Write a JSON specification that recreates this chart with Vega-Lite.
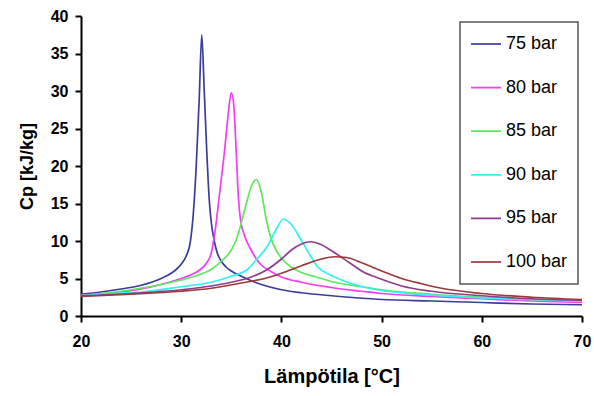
{
  "$schema": "https://vega.github.io/schema/vega-lite/v6.json",
  "width": 501,
  "height": 300,
  "autosize": {"type": "none"},
  "padding": {"left": 81, "top": 16, "right": 12, "bottom": 80},
  "background": "white",
  "datasets": {
    "cp": [
      {"p": "75 bar", "T": 20, "Cp": 2.9}, {"p": "75 bar", "T": 22, "Cp": 3.2}, {"p": "75 bar", "T": 24, "Cp": 3.6}, {"p": "75 bar", "T": 26, "Cp": 4.1}, {"p": "75 bar", "T": 28, "Cp": 5.0}, {"p": "75 bar", "T": 29, "Cp": 5.7}, {"p": "75 bar", "T": 29.5, "Cp": 6.2}, {"p": "75 bar", "T": 30, "Cp": 6.9}, {"p": "75 bar", "T": 30.5, "Cp": 8.0}, {"p": "75 bar", "T": 30.9, "Cp": 9.8}, {"p": "75 bar", "T": 31.2, "Cp": 13.5}, {"p": "75 bar", "T": 31.5, "Cp": 20}, {"p": "75 bar", "T": 31.8, "Cp": 29}, {"p": "75 bar", "T": 32.05, "Cp": 37.5}, {"p": "75 bar", "T": 32.3, "Cp": 30}, {"p": "75 bar", "T": 32.55, "Cp": 22}, {"p": "75 bar", "T": 32.8, "Cp": 15.5}, {"p": "75 bar", "T": 33, "Cp": 12.5}, {"p": "75 bar", "T": 33.3, "Cp": 10}, {"p": "75 bar", "T": 33.6, "Cp": 8.4}, {"p": "75 bar", "T": 34, "Cp": 7.3}, {"p": "75 bar", "T": 34.5, "Cp": 6.5}, {"p": "75 bar", "T": 35, "Cp": 6.0}, {"p": "75 bar", "T": 36, "Cp": 5.3}, {"p": "75 bar", "T": 37, "Cp": 4.7}, {"p": "75 bar", "T": 38, "Cp": 4.2}, {"p": "75 bar", "T": 40, "Cp": 3.5}, {"p": "75 bar", "T": 42, "Cp": 3.1}, {"p": "75 bar", "T": 45, "Cp": 2.7}, {"p": "75 bar", "T": 50, "Cp": 2.2}, {"p": "75 bar", "T": 55, "Cp": 2.0}, {"p": "75 bar", "T": 60, "Cp": 1.8}, {"p": "75 bar", "T": 65, "Cp": 1.6}, {"p": "75 bar", "T": 70, "Cp": 1.5},
      {"p": "80 bar", "T": 20, "Cp": 2.8}, {"p": "80 bar", "T": 24, "Cp": 3.2}, {"p": "80 bar", "T": 26, "Cp": 3.6}, {"p": "80 bar", "T": 28, "Cp": 4.2}, {"p": "80 bar", "T": 30, "Cp": 5.0}, {"p": "80 bar", "T": 31, "Cp": 5.5}, {"p": "80 bar", "T": 31.7, "Cp": 6.0}, {"p": "80 bar", "T": 32.5, "Cp": 7.0}, {"p": "80 bar", "T": 33, "Cp": 8.4}, {"p": "80 bar", "T": 33.4, "Cp": 11.5}, {"p": "80 bar", "T": 33.8, "Cp": 16}, {"p": "80 bar", "T": 34.3, "Cp": 21.7}, {"p": "80 bar", "T": 34.7, "Cp": 27}, {"p": "80 bar", "T": 35, "Cp": 29.8}, {"p": "80 bar", "T": 35.25, "Cp": 28}, {"p": "80 bar", "T": 35.5, "Cp": 21.7}, {"p": "80 bar", "T": 35.7, "Cp": 16}, {"p": "80 bar", "T": 35.9, "Cp": 13}, {"p": "80 bar", "T": 36.3, "Cp": 10.8}, {"p": "80 bar", "T": 36.9, "Cp": 9.0}, {"p": "80 bar", "T": 37.5, "Cp": 7.6}, {"p": "80 bar", "T": 38, "Cp": 6.8}, {"p": "80 bar", "T": 39, "Cp": 5.9}, {"p": "80 bar", "T": 40, "Cp": 5.2}, {"p": "80 bar", "T": 42, "Cp": 4.5}, {"p": "80 bar", "T": 45, "Cp": 3.8}, {"p": "80 bar", "T": 48, "Cp": 3.3}, {"p": "80 bar", "T": 50, "Cp": 3.0}, {"p": "80 bar", "T": 55, "Cp": 2.6}, {"p": "80 bar", "T": 60, "Cp": 2.3}, {"p": "80 bar", "T": 65, "Cp": 2.0}, {"p": "80 bar", "T": 70, "Cp": 1.8},
      {"p": "85 bar", "T": 20, "Cp": 2.7}, {"p": "85 bar", "T": 22, "Cp": 3.0}, {"p": "85 bar", "T": 25, "Cp": 3.5}, {"p": "85 bar", "T": 28, "Cp": 4.2}, {"p": "85 bar", "T": 30, "Cp": 4.8}, {"p": "85 bar", "T": 32, "Cp": 5.6}, {"p": "85 bar", "T": 33, "Cp": 6.2}, {"p": "85 bar", "T": 34, "Cp": 7.3}, {"p": "85 bar", "T": 35, "Cp": 8.8}, {"p": "85 bar", "T": 35.5, "Cp": 10.2}, {"p": "85 bar", "T": 36, "Cp": 12.4}, {"p": "85 bar", "T": 36.5, "Cp": 15}, {"p": "85 bar", "T": 37, "Cp": 17.3}, {"p": "85 bar", "T": 37.5, "Cp": 18.2}, {"p": "85 bar", "T": 38, "Cp": 16.5}, {"p": "85 bar", "T": 38.5, "Cp": 12.8}, {"p": "85 bar", "T": 39, "Cp": 10.2}, {"p": "85 bar", "T": 39.5, "Cp": 8.7}, {"p": "85 bar", "T": 40, "Cp": 7.7}, {"p": "85 bar", "T": 41, "Cp": 6.5}, {"p": "85 bar", "T": 42, "Cp": 5.8}, {"p": "85 bar", "T": 43.5, "Cp": 5.2}, {"p": "85 bar", "T": 45, "Cp": 4.6}, {"p": "85 bar", "T": 48, "Cp": 3.9}, {"p": "85 bar", "T": 50, "Cp": 3.5}, {"p": "85 bar", "T": 55, "Cp": 2.9}, {"p": "85 bar", "T": 60, "Cp": 2.5}, {"p": "85 bar", "T": 65, "Cp": 2.2}, {"p": "85 bar", "T": 70, "Cp": 2.0},
      {"p": "90 bar", "T": 20, "Cp": 2.7}, {"p": "90 bar", "T": 23, "Cp": 3.0}, {"p": "90 bar", "T": 26, "Cp": 3.2}, {"p": "90 bar", "T": 30, "Cp": 3.9}, {"p": "90 bar", "T": 33, "Cp": 4.5}, {"p": "90 bar", "T": 35, "Cp": 5.3}, {"p": "90 bar", "T": 36.6, "Cp": 6.2}, {"p": "90 bar", "T": 37.5, "Cp": 7.5}, {"p": "90 bar", "T": 38.6, "Cp": 9.3}, {"p": "90 bar", "T": 39.5, "Cp": 11.6}, {"p": "90 bar", "T": 40.2, "Cp": 12.9}, {"p": "90 bar", "T": 41, "Cp": 12.2}, {"p": "90 bar", "T": 41.9, "Cp": 10.3}, {"p": "90 bar", "T": 43, "Cp": 7.8}, {"p": "90 bar", "T": 43.6, "Cp": 6.6}, {"p": "90 bar", "T": 45, "Cp": 5.4}, {"p": "90 bar", "T": 46.8, "Cp": 4.4}, {"p": "90 bar", "T": 50, "Cp": 3.4}, {"p": "90 bar", "T": 52, "Cp": 3.1}, {"p": "90 bar", "T": 57, "Cp": 2.6}, {"p": "90 bar", "T": 60, "Cp": 2.4}, {"p": "90 bar", "T": 65, "Cp": 2.2}, {"p": "90 bar", "T": 70, "Cp": 2.0},
      {"p": "95 bar", "T": 20, "Cp": 2.7}, {"p": "95 bar", "T": 25, "Cp": 3.0}, {"p": "95 bar", "T": 30, "Cp": 3.5}, {"p": "95 bar", "T": 33, "Cp": 4.0}, {"p": "95 bar", "T": 35, "Cp": 4.5}, {"p": "95 bar", "T": 37, "Cp": 5.2}, {"p": "95 bar", "T": 38.6, "Cp": 6.2}, {"p": "95 bar", "T": 40, "Cp": 7.6}, {"p": "95 bar", "T": 41, "Cp": 8.8}, {"p": "95 bar", "T": 42, "Cp": 9.6}, {"p": "95 bar", "T": 42.9, "Cp": 9.9}, {"p": "95 bar", "T": 44, "Cp": 9.5}, {"p": "95 bar", "T": 45, "Cp": 8.7}, {"p": "95 bar", "T": 46.8, "Cp": 7.1}, {"p": "95 bar", "T": 48, "Cp": 6.0}, {"p": "95 bar", "T": 50, "Cp": 4.9}, {"p": "95 bar", "T": 52, "Cp": 4.0}, {"p": "95 bar", "T": 55, "Cp": 3.3}, {"p": "95 bar", "T": 60, "Cp": 2.7}, {"p": "95 bar", "T": 65, "Cp": 2.3}, {"p": "95 bar", "T": 70, "Cp": 2.1},
      {"p": "100 bar", "T": 20, "Cp": 2.6}, {"p": "100 bar", "T": 25, "Cp": 2.9}, {"p": "100 bar", "T": 30, "Cp": 3.3}, {"p": "100 bar", "T": 33, "Cp": 3.7}, {"p": "100 bar", "T": 36, "Cp": 4.4}, {"p": "100 bar", "T": 38.6, "Cp": 5.1}, {"p": "100 bar", "T": 40, "Cp": 5.7}, {"p": "100 bar", "T": 42, "Cp": 6.7}, {"p": "100 bar", "T": 44, "Cp": 7.6}, {"p": "100 bar", "T": 45.3, "Cp": 7.9}, {"p": "100 bar", "T": 46.5, "Cp": 7.8}, {"p": "100 bar", "T": 48, "Cp": 7.1}, {"p": "100 bar", "T": 50, "Cp": 6.0}, {"p": "100 bar", "T": 52, "Cp": 5.0}, {"p": "100 bar", "T": 54, "Cp": 4.3}, {"p": "100 bar", "T": 56, "Cp": 3.7}, {"p": "100 bar", "T": 60, "Cp": 3.0}, {"p": "100 bar", "T": 65, "Cp": 2.5}, {"p": "100 bar", "T": 70, "Cp": 2.2}
    ]
  },
  "data": {"name": "cp"},
  "mark": {"type": "line", "interpolate": "monotone", "strokeWidth": 1.7, "clip": true},
  "encoding": {
    "x": {
      "field": "T", "type": "quantitative",
      "scale": {"domain": [20, 70], "nice": false},
      "axis": {"values": [20, 30, 40, 50, 60, 70], "title": "Lämpötila [°C]", "labelPadding": 11, "titlePadding": 17, "titleFontSize": 20}
    },
    "y": {
      "field": "Cp", "type": "quantitative",
      "scale": {"domain": [0, 40], "nice": false},
      "axis": {"values": [0, 5, 10, 15, 20, 25, 30, 35, 40], "title": "Cp [kJ/kg]", "labelPadding": 7, "titlePadding": 14, "titleFontSize": 18}
    },
    "color": {
      "field": "p", "type": "nominal",
      "scale": {
        "domain": ["75 bar", "80 bar", "85 bar", "90 bar", "95 bar", "100 bar"],
        "range": ["#3c3c9c", "#f53cf5", "#5de85d", "#33f0f0", "#8e3d8e", "#9b3a3a"]
      },
      "legend": {"title": null}
    },
    "order": {"field": "T", "type": "quantitative"}
  },
  "config": {
    "view": {"stroke": null},
    "font": "Liberation Sans",
    "axis": {
      "grid": false,
      "domainColor": "#000",
      "domainWidth": 2,
      "tickColor": "#000",
      "tickWidth": 2,
      "tickSize": 6,
      "labelFont": "Liberation Sans",
      "labelFontSize": 16,
      "labelFontWeight": "bold",
      "labelColor": "#000",
      "titleFont": "Liberation Sans",
      "titleFontWeight": "bold",
      "titleColor": "#000",
      "labelFlush": false,
      "labelOverlap": false
    },
    "legend": {
      "orient": "none",
      "legendX": 379,
      "legendY": 6,
      "direction": "vertical",
      "symbolType": "stroke",
      "symbolSize": 900,
      "symbolStrokeWidth": 1.7,
      "labelFont": "Liberation Sans",
      "labelFontSize": 18,
      "labelColor": "#000",
      "labelOffset": 4,
      "padding": 10,
      "rowPadding": 19.6,
      "clipHeight": 24,
      "strokeColor": "#555",
      "strokeWidth": 1.5,
      "fillColor": "white"
    }
  }
}
